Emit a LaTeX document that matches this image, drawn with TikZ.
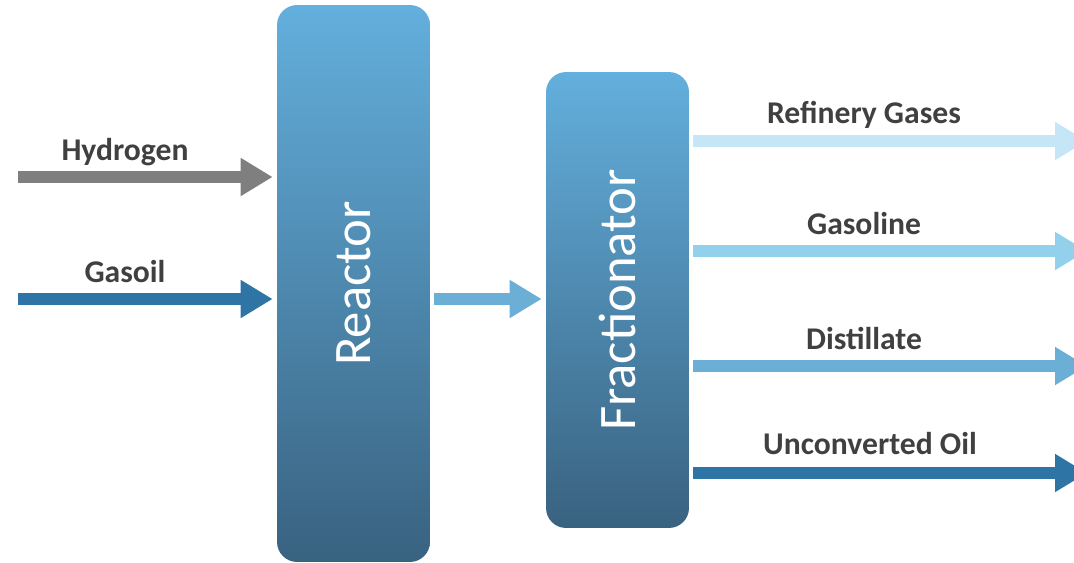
\documentclass[tikz,border=0pt]{standalone}
\usepackage{fontspec}
\setmainfont{Carlito}
\usetikzlibrary{arrows.meta}
\definecolor{boxtop}{RGB}{99,175,221}
\definecolor{boxbot}{RGB}{57,98,128}
\definecolor{labeltext}{RGB}{64,64,64}
\definecolor{hydgray}{RGB}{127,127,127}
\definecolor{darkblue}{RGB}{46,117,166}
\definecolor{midblue}{RGB}{107,174,214}
\definecolor{lightblue}{RGB}{146,208,236}
\definecolor{paleblue}{RGB}{197,230,247}
\tikzset{
  unit/.style={rounded corners=0.4cm, top color=boxtop, bottom color=boxbot,
    draw=none, text=white, font=\fontsize{30}{32}\selectfont, inner sep=0pt},
  flow/.style={line width=0.25cm, -{Triangle[width=0.72cm,length=0.64cm]}},
  tag/.style={text=labeltext, font=\fontsize{18}{20}\selectfont\bfseries}
}
\begin{document}
\begin{tikzpicture}[x=0.02cm,y=-0.02cm]
  \useasboundingbox (0,0) rectangle (1074,562);
  \node[unit, minimum width=3.06cm, minimum height=11.14cm] (reactor) at (353.5,283.5) {\rotatebox{90}{Reactor}};
  \node[unit, minimum width=2.86cm, minimum height=9.12cm] (frac) at (617.5,300) {\rotatebox{90}{Fractionator}};
  % feeds
  \coordinate (hin) at (18,177);
  \coordinate (gin) at (18,299);
  \node[tag] (hyd) at (125,152) {Hydrogen};
  \node[tag] (gas) at (125,272) {Gasoil};
  \draw[flow, hydgray, shorten >=0.08cm] (hin) -- (reactor.west |- hin);
  \draw[flow, darkblue, shorten >=0.08cm] (gin) -- (reactor.west |- gin);
  \draw[flow, midblue, shorten <=0.08cm, shorten >=0.08cm] (reactor.east |- gin) -- (frac.west |- gin);
  % products
  \coordinate (rgout) at (1087,141);
  \coordinate (glout) at (1087,251);
  \coordinate (dsout) at (1087,366);
  \coordinate (uoout) at (1087,473);
  \node[tag] (rg) at (864,115) {Refinery Gases};
  \node[tag] (gl) at (864,224) {Gasoline};
  \node[tag] (ds) at (864,338) {Distillate};
  \node[tag] (uo) at (870,444) {Unconverted Oil};
  \draw[flow, paleblue, shorten <=0.08cm] (frac.east |- rgout) -- (rgout);
  \draw[flow, lightblue, shorten <=0.08cm] (frac.east |- glout) -- (glout);
  \draw[flow, midblue, shorten <=0.08cm] (frac.east |- dsout) -- (dsout);
  \draw[flow, darkblue, shorten <=0.08cm] (frac.east |- uoout) -- (uoout);
\end{tikzpicture}
\end{document}
